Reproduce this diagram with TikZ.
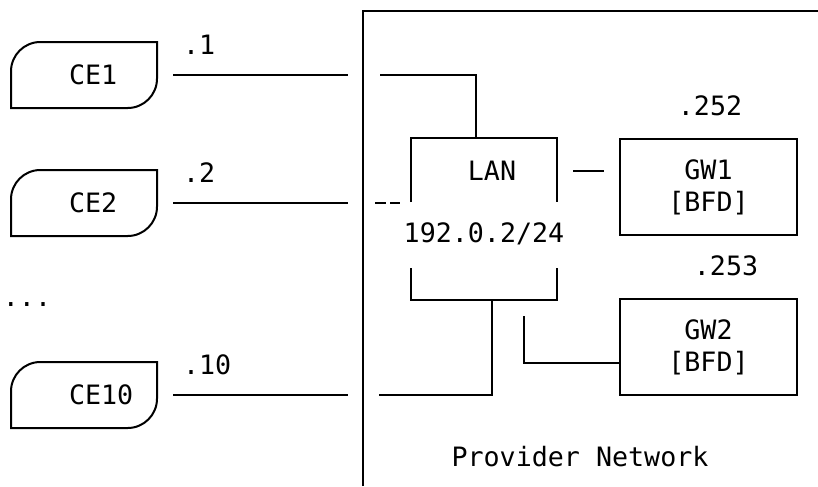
\documentclass[tikz,border=0pt]{standalone}
\usepackage{fontspec}
\setmonofont{DejaVu Sans Mono}
\usetikzlibrary{calc}

\begin{document}
\begin{tikzpicture}[x=0.75pt,y=-0.75pt,line width=1.5pt,
  every node/.style={font=\ttfamily\fontsize{20}{24}\selectfont},
  ce/.style={minimum width=108pt,minimum height=48pt,inner sep=0pt},
  celabel/.style={anchor=west,xshift=42.75pt,inner sep=0pt},
  gw/.style={draw,minimum width=132.75pt,minimum height=72pt,align=center,inner sep=0pt},
  addr/.style={anchor=west,inner sep=0pt}]
\useasboundingbox (0,0) rectangle (818,486);

\draw (363,486) -- (363,11) -- (818,11);

\foreach \n/\y in {1/75,2/203,10/395}{
\node[ce,label={[celabel]west:CE\n}] (ce\n) at (84,\y) {};
\draw ([yshift=-22pt]ce\n.north west) arc[start angle=180,end angle=90,radius=22pt]
  -- (ce\n.north east) -- ([yshift=22pt]ce\n.south east)
  arc[start angle=0,end angle=-90,radius=22pt] -- (ce\n.south west) -- cycle;
\coordinate (ce\n end) at (348,\y);
\draw ([xshift=12pt]ce\n.east) -- (ce\n end);
\node[addr] (ip\n) at (182,\y-30) {.\n};
}

\node (dots) at (27,305) {...};

\node[inner sep=0pt,minimum width=108pt,minimum height=120pt] (lan) at (484,219) {};
\draw ([yshift=-48pt]lan.north west) -- (lan.north west) -- (lan.north east) -- ([yshift=-48pt]lan.north east);
\draw ([yshift=24pt]lan.south west) -- (lan.south west) -- (lan.south east) -- ([yshift=24pt]lan.south east);
\node (lanname) at (492,171) {LAN};
\node (lannet) at (484,234) {192.0.2/24};

\node[gw] (gw1) at (708.5,187) {GW1\\{[BFD]}};
\node[gw] (gw2) at (708.5,347) {GW2\\{[BFD]}};
\node (ip252) at (710,106) {.252};
\node (ip253) at (726,266) {.253};
\node (pn) at (580,457) {Provider Network};

\coordinate (pe1) at (380,75);
\coordinate (pe2) at (375,203);
\coordinate (pe10) at (379,395);
\draw (pe1) -| ([xshift=-6pt]lan.north);
\draw[dash pattern=on 8.25pt off 3pt] (pe2) -- ([xshift=-8.25pt]pe2 -| lan.west);
\draw ([xshift=12pt]lan.east |- lanname) -- ([xshift=-11.25pt]gw1.west |- lanname);
\draw ([xshift=6pt]lan.south) |- (pe10);
\draw ([shift={(30pt,-12pt)}]lan.south) |- ([yshift=-12pt]gw2.west);
\end{tikzpicture}
\end{document}
